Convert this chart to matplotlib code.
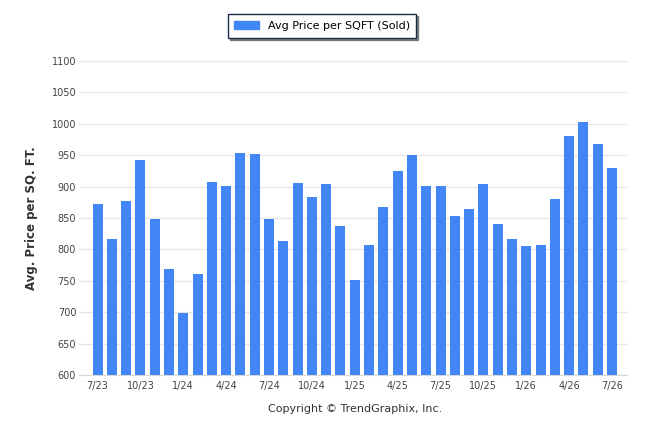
import matplotlib
matplotlib.use("Agg")
import matplotlib.pyplot as plt
from matplotlib.patches import Patch

months = ["7/23","8/23","9/23","10/23","11/23","12/23","1/24","2/24","3/24","4/24","5/24","6/24",
          "7/24","8/24","9/24","10/24","11/24","12/24","1/25","2/25","3/25","4/25","5/25","6/25",
          "7/25","8/25","9/25","10/25","11/25","12/25","1/26","2/26","3/26","4/26","5/26","6/26","7/26"]
values = [872, 817, 877, 942, 848, 769, 699, 761, 907, 901, 953, 952,
          848, 813, 906, 883, 904, 837, 751, 807, 867, 925, 950, 901,
          901, 853, 864, 904, 840, 816, 805, 807, 880, 981, 1003, 968, 930]
yticks = [600, 650, 700, 750, 800, 850, 900, 950, 1000, 1050, 1100]

bar_color = "#4285F4"
fig = plt.figure(figsize=(6.46, 4.34), dpi=100)
ax = fig.add_axes([79/646, 1-375/434, (627-79)/646, (375-61)/434])
x = list(range(len(values)))
ax.bar(x, values, width=0.7, color=bar_color, zorder=3)
ax.set_ylim(600, 1100)
ax.set_xlim(-1.3, 37.05)
ax.set_yticks(yticks)
ax.set_yticklabels([str(v) for v in yticks], fontsize=7, color="#444444")
ax.set_xticks(x[::3])
ax.set_xticklabels(months[::3], fontsize=7, color="#444444")
ax.tick_params(axis="both", length=0, pad=4)
ax.tick_params(axis="y", pad=2)
ax.grid(axis="y", color="#e6e6e6", linewidth=1, zorder=0)
for s in ["top", "right", "left"]:
    ax.spines[s].set_visible(False)
ax.spines["bottom"].set_color("#d8d8d8")
ax.set_ylabel("Avg. Price per SQ. FT.", fontsize=8.5, fontweight="bold", color="#333333", labelpad=10)

leg = fig.legend(handles=[Patch(color=bar_color, label="Avg Price per SQFT (Sold)")],
                 loc="center", bbox_to_anchor=(322/646, 1-26/434), fontsize=8,
                 frameon=True, fancybox=False,
                 shadow={"ox": 1.5, "oy": -1.5, "color": "#666666", "alpha": 0.8},
                 handlelength=2.2, handleheight=0.8, borderpad=0.6)
leg.get_frame().set_edgecolor("#1a2a4a")
leg.get_frame().set_linewidth(1.0)

fig.text(355/646, 1-409/434, "Copyright \u00a9 TrendGraphix, Inc.", ha="center", va="center",
         fontsize=8, color="#333333")
fig.savefig("out.png", dpi=100)
